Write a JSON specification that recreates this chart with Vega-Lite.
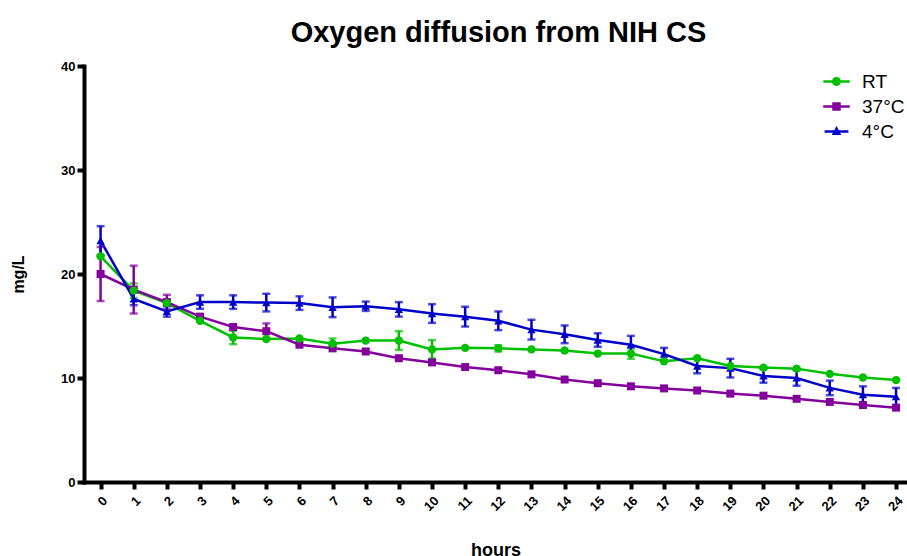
{
  "$schema": "https://vega.github.io/schema/vega-lite/v6.json",
  "width": 823,
  "height": 416,
  "autosize": {"type": "none"},
  "padding": {"left": 84, "top": 66, "right": 0, "bottom": 74},
  "background": "white",
  "title": {
    "text": "Oxygen diffusion from NIH CS",
    "font": "Liberation Sans",
    "fontSize": 29,
    "fontWeight": "bold",
    "color": "black",
    "anchor": "middle",
    "offset": 12,
    "dx": 3
  },
  "config": {
    "view": {"stroke": null},
    "font": "Liberation Sans",
    "axis": {
      "grid": false,
      "domainColor": "black",
      "domainWidth": 4,
      "domainCap": "square",
      "tickColor": "black",
      "tickWidth": 4,
      "tickSize": 7,
      "labelColor": "black",
      "labelFont": "Liberation Sans",
      "labelFontWeight": "bold",
      "titleFont": "Liberation Sans",
      "titleFontWeight": "bold",
      "titleColor": "black"
    }
  },
  "data": {
    "values": [
      {"hours": 0, "group": "RT", "mgL": 21.7, "sem": null},
      {"hours": 1, "group": "RT", "mgL": 18.4, "sem": 0.7},
      {"hours": 2, "group": "RT", "mgL": 17.2, "sem": null},
      {"hours": 3, "group": "RT", "mgL": 15.5, "sem": null},
      {"hours": 4, "group": "RT", "mgL": 13.9, "sem": 0.65},
      {"hours": 5, "group": "RT", "mgL": 13.75, "sem": null},
      {"hours": 6, "group": "RT", "mgL": 13.8, "sem": null},
      {"hours": 7, "group": "RT", "mgL": 13.3, "sem": 0.5},
      {"hours": 8, "group": "RT", "mgL": 13.6, "sem": null},
      {"hours": 9, "group": "RT", "mgL": 13.6, "sem": 0.9},
      {"hours": 10, "group": "RT", "mgL": 12.75, "sem": 0.9},
      {"hours": 11, "group": "RT", "mgL": 12.9, "sem": null},
      {"hours": 12, "group": "RT", "mgL": 12.85, "sem": 0.3},
      {"hours": 13, "group": "RT", "mgL": 12.75, "sem": null},
      {"hours": 14, "group": "RT", "mgL": 12.65, "sem": null},
      {"hours": 15, "group": "RT", "mgL": 12.35, "sem": null},
      {"hours": 16, "group": "RT", "mgL": 12.35, "sem": 0.5},
      {"hours": 17, "group": "RT", "mgL": 11.6, "sem": null},
      {"hours": 18, "group": "RT", "mgL": 11.9, "sem": null},
      {"hours": 19, "group": "RT", "mgL": 11.15, "sem": null},
      {"hours": 20, "group": "RT", "mgL": 11.0, "sem": null},
      {"hours": 21, "group": "RT", "mgL": 10.9, "sem": null},
      {"hours": 22, "group": "RT", "mgL": 10.4, "sem": null},
      {"hours": 23, "group": "RT", "mgL": 10.05, "sem": null},
      {"hours": 24, "group": "RT", "mgL": 9.8, "sem": null},
      {"hours": 0, "group": "37°C", "mgL": 20.0, "sem": 2.6},
      {"hours": 1, "group": "37°C", "mgL": 18.5, "sem": 2.3},
      {"hours": 2, "group": "37°C", "mgL": 17.3, "sem": 0.7},
      {"hours": 3, "group": "37°C", "mgL": 15.9, "sem": null},
      {"hours": 4, "group": "37°C", "mgL": 14.9, "sem": null},
      {"hours": 5, "group": "37°C", "mgL": 14.5, "sem": 0.75},
      {"hours": 6, "group": "37°C", "mgL": 13.2, "sem": null},
      {"hours": 7, "group": "37°C", "mgL": 12.85, "sem": null},
      {"hours": 8, "group": "37°C", "mgL": 12.55, "sem": null},
      {"hours": 9, "group": "37°C", "mgL": 11.9, "sem": null},
      {"hours": 10, "group": "37°C", "mgL": 11.5, "sem": null},
      {"hours": 11, "group": "37°C", "mgL": 11.05, "sem": null},
      {"hours": 12, "group": "37°C", "mgL": 10.75, "sem": null},
      {"hours": 13, "group": "37°C", "mgL": 10.35, "sem": null},
      {"hours": 14, "group": "37°C", "mgL": 9.85, "sem": null},
      {"hours": 15, "group": "37°C", "mgL": 9.5, "sem": null},
      {"hours": 16, "group": "37°C", "mgL": 9.2, "sem": null},
      {"hours": 17, "group": "37°C", "mgL": 9.0, "sem": null},
      {"hours": 18, "group": "37°C", "mgL": 8.8, "sem": null},
      {"hours": 19, "group": "37°C", "mgL": 8.5, "sem": null},
      {"hours": 20, "group": "37°C", "mgL": 8.3, "sem": null},
      {"hours": 21, "group": "37°C", "mgL": 8.0, "sem": null},
      {"hours": 22, "group": "37°C", "mgL": 7.7, "sem": null},
      {"hours": 23, "group": "37°C", "mgL": 7.4, "sem": null},
      {"hours": 24, "group": "37°C", "mgL": 7.15, "sem": null},
      {"hours": 0, "group": "4°C", "mgL": 23.2, "sem": 1.4},
      {"hours": 1, "group": "4°C", "mgL": 17.6, "sem": 0.6},
      {"hours": 2, "group": "4°C", "mgL": 16.4, "sem": 0.5},
      {"hours": 3, "group": "4°C", "mgL": 17.3, "sem": 0.65},
      {"hours": 4, "group": "4°C", "mgL": 17.3, "sem": 0.65},
      {"hours": 5, "group": "4°C", "mgL": 17.25, "sem": 0.85},
      {"hours": 6, "group": "4°C", "mgL": 17.2, "sem": 0.65},
      {"hours": 7, "group": "4°C", "mgL": 16.8, "sem": 0.95},
      {"hours": 8, "group": "4°C", "mgL": 16.9, "sem": 0.45},
      {"hours": 9, "group": "4°C", "mgL": 16.6, "sem": 0.7},
      {"hours": 10, "group": "4°C", "mgL": 16.2, "sem": 0.9},
      {"hours": 11, "group": "4°C", "mgL": 15.9, "sem": 0.95},
      {"hours": 12, "group": "4°C", "mgL": 15.5, "sem": 0.9},
      {"hours": 13, "group": "4°C", "mgL": 14.65, "sem": 0.95},
      {"hours": 14, "group": "4°C", "mgL": 14.2, "sem": 0.85},
      {"hours": 15, "group": "4°C", "mgL": 13.65, "sem": 0.65},
      {"hours": 16, "group": "4°C", "mgL": 13.2, "sem": 0.85},
      {"hours": 17, "group": "4°C", "mgL": 12.3, "sem": 0.6},
      {"hours": 18, "group": "4°C", "mgL": 11.15, "sem": 0.7},
      {"hours": 19, "group": "4°C", "mgL": 10.95, "sem": 0.9},
      {"hours": 20, "group": "4°C", "mgL": 10.2, "sem": 0.65},
      {"hours": 21, "group": "4°C", "mgL": 10.0, "sem": 0.75},
      {"hours": 22, "group": "4°C", "mgL": 9.05, "sem": 0.7},
      {"hours": 23, "group": "4°C", "mgL": 8.4, "sem": 0.8},
      {"hours": 24, "group": "4°C", "mgL": 8.2, "sem": 0.85}
    ]
  },
  "encoding": {
    "x": {
      "field": "hours",
      "type": "quantitative",
      "scale": {"domain": [-0.5, 24.33], "nice": false, "zero": false},
      "axis": {
        "values": [0, 1, 2, 3, 4, 5, 6, 7, 8, 9, 10, 11, 12, 13, 14, 15, 16, 17, 18, 19, 20, 21, 22, 23, 24],
        "labelAngle": -45,
        "labelFontSize": 13,
        "labelPadding": 5,
        "title": "hours",
        "titleFontSize": 18,
        "titlePadding": 28
      }
    },
    "y": {
      "field": "mgL",
      "type": "quantitative",
      "scale": {"domain": [0, 40], "nice": false},
      "axis": {
        "values": [0, 10, 20, 30, 40],
        "labelFontSize": 13,
        "labelPadding": 2,
        "title": "mg/L",
        "titleFontSize": 16,
        "titlePadding": 34
      }
    },
    "color": {
      "field": "group",
      "type": "nominal",
      "scale": {"domain": ["RT", "37°C", "4°C"], "range": ["#00c000", "#84009c", "#0000c8"]},
      "legend": {
        "title": null,
        "orient": "none",
        "legendX": 739,
        "legendY": 2,
        "padding": 0,
        "symbolSize": 700,
        "labelFont": "Liberation Sans",
        "labelFontSize": 19,
        "labelColor": "black",
        "labelOffset": 12,
        "rowPadding": 1,
        "encode": {
          "symbols": {
            "update": {
              "shape": {"signal": "datum.value === 'RT' ? 'M-1,-0.094H1V0.094H-1Z M-0.34,0A0.34,0.34 0 1,1 0.34,0A0.34,0.34 0 1,1 -0.34,0Z' : datum.value === '37°C' ? 'M-1,-0.094H1V0.094H-1Z M-0.32,-0.32H0.32V0.32H-0.32Z' : 'M-0.9,-0.094H0.9V0.094H-0.9Z M0,-0.42L0.36,0.26H-0.36Z'"},
              "fill": {"scale": "color", "field": "value"},
              "stroke": {"value": "transparent"},
              "strokeWidth": {"value": 0},
              "opacity": {"value": 1}
            }
          }
        }
      }
    }
  },
  "layer": [
    {
      "mark": {"type": "line", "strokeWidth": 2.5}
    },
    {
      "transform": [{"filter": "datum.sem != null"}],
      "mark": {
        "type": "errorbar",
        "ticks": {"size": 8, "thickness": 2.5},
        "rule": {"strokeWidth": 2.5}
      },
      "encoding": {
        "y": {"field": "mgL", "type": "quantitative"},
        "yError": {"field": "sem"}
      }
    },
    {
      "transform": [{"filter": "datum.group === '37°C'"}],
      "mark": {"type": "point", "shape": "square", "filled": true, "opacity": 1, "size": 64}
    },
    {
      "transform": [{"filter": "datum.group === '4°C'"}],
      "mark": {"type": "point", "shape": "triangle-up", "filled": true, "opacity": 1, "size": 70}
    },
    {
      "transform": [{"filter": "datum.group === 'RT'"}],
      "mark": {"type": "point", "shape": "circle", "filled": true, "opacity": 1, "size": 70}
    }
  ]
}
